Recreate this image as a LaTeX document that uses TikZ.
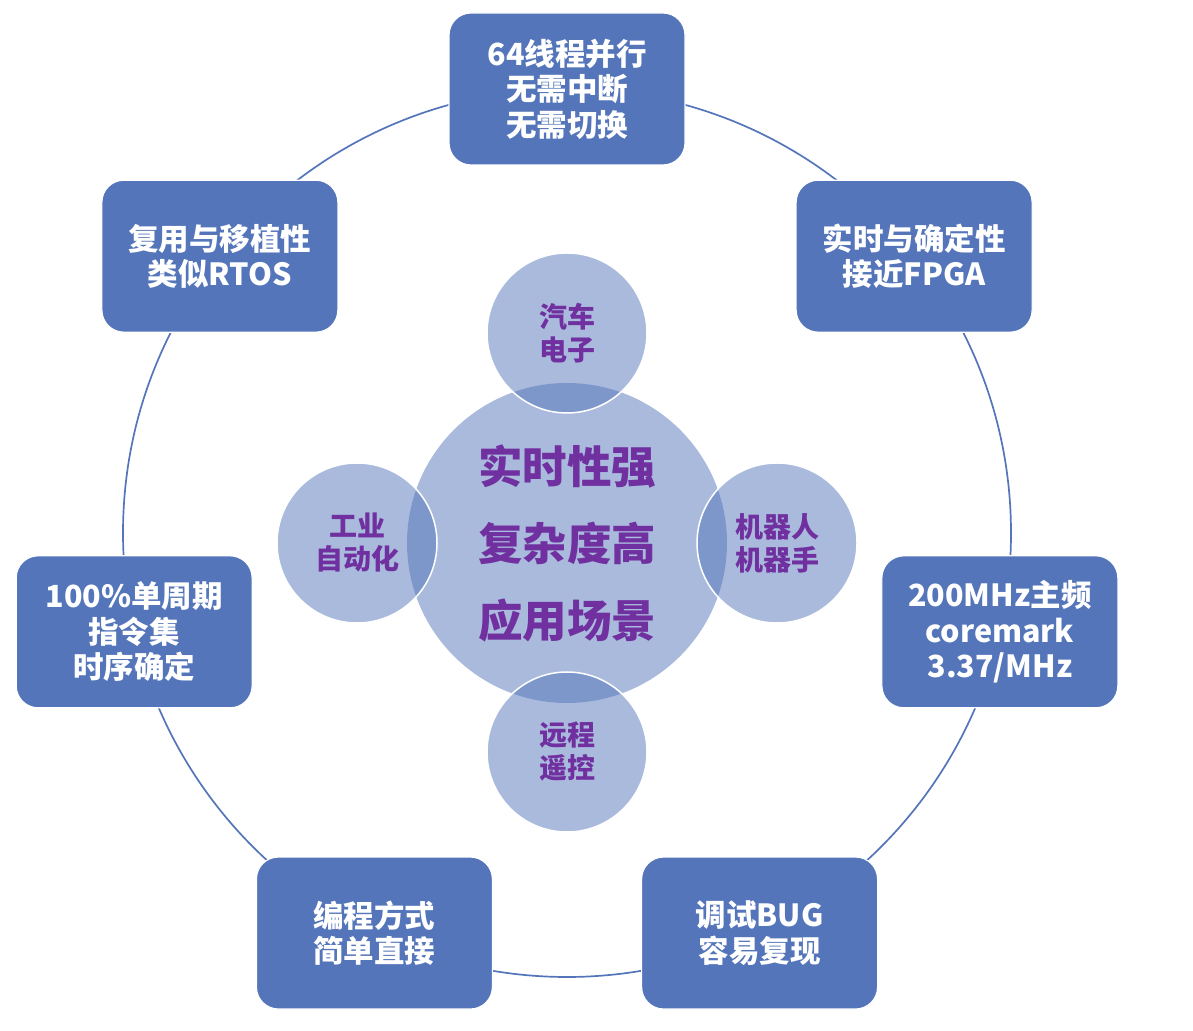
\documentclass[tikz,border=0pt]{standalone}
\usepackage{fontspec}
\setmainfont{Noto Sans CJK SC}
\usetikzlibrary{calc}
\definecolor{boxblue}{RGB}{84,117,186}
\definecolor{scenepurple}{RGB}{112,48,160}
\tikzset{
	featurebox/.style={rectangle, rounded corners=22pt, minimum width=236pt, minimum height=152pt, fill=boxblue, draw=white, line width=1.2pt, text=white, align=center, font=\bfseries\fontsize{30.5}{35.5}\selectfont},
	hubcircle/.style={circle, minimum size=320pt, inner sep=0pt, fill=boxblue, fill opacity=0.5, text opacity=1, text=scenepurple, align=center, font=\bfseries\fontsize{44.5}{77}\selectfont},
	scenecircle/.style={circle, minimum size=160pt, inner sep=0pt, fill=boxblue, fill opacity=0.5, text opacity=1, draw=white, line width=1.5pt, text=scenepurple, align=center, font=\bfseries\fontsize{28}{33}\selectfont}
}

\begin{document}
\begin{tikzpicture}[x=1pt, y=1pt]
			%%%%% START %%%%%
			\useasboundingbox (0, 0) rectangle (1193, 1030);
			
			\coordinate (ring) at (567, 497);
			\draw[line width=1.7pt, color=boxblue] (ring) circle (444pt);
			
			\node[featurebox] (threads) at ($(ring)+(90:444pt)$) {64线程并行\\无需中断\\无需切换};
			\node[featurebox] (reuse) at ($(ring)+(141.43:444pt)$) {复用与移植性\\类似RTOS};
			\node[featurebox] (cycle) at ($(ring)+(192.86:444pt)$) {100\%单周期\\指令集\\时序确定};
			\node[featurebox] (coding) at ($(ring)+(244.29:444pt)$) {编程方式\\简单直接};
			\node[featurebox] (debug) at ($(ring)+(295.71:444pt)$) {调试BUG\\容易复现};
			\node[featurebox] (clock) at ($(ring)+(347.14:444pt)$) {200MHz主频\\coremark\\3.37/MHz};
			\node[featurebox] (realtime) at ($(ring)+(38.57:444pt)$) {实时与确定性\\接近FPGA};
			
			\node[hubcircle] (hub) at (567, 487) {实时性强\\复杂度高\\应用场景};
			
			\node[scenecircle] (auto) at (567, 697) {汽车\\电子};
			\node[scenecircle] (robot) at (777, 487) {机器人\\机器手};
			\node[scenecircle] (remote) at (567, 278) {远程\\遥控};
			\node[scenecircle] (factory) at (357, 487) {工业\\自动化};
			
			%%%%% END %%%%%
\end{tikzpicture}
\end{document}
